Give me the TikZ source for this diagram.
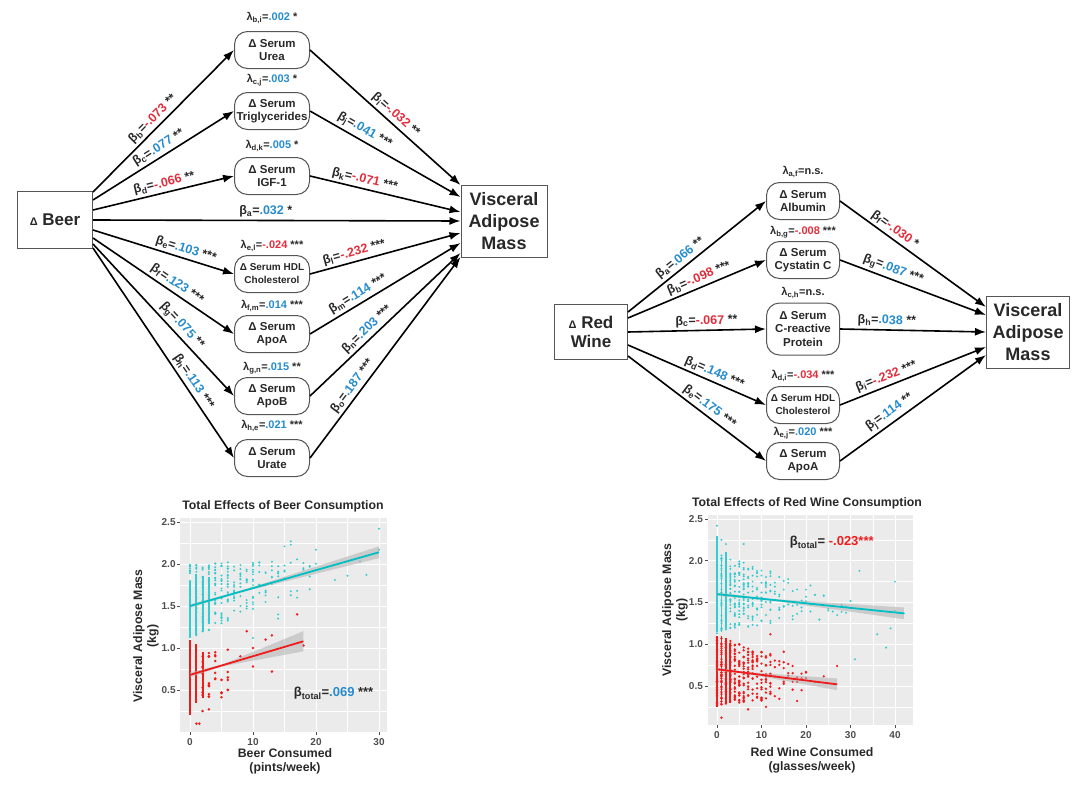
\documentclass[tikz,border=0pt]{standalone}
\usepackage{fontspec}
\setmainfont{Liberation Sans}
\usetikzlibrary{arrows.meta}

\definecolor{posblue}{RGB}{38,140,205}
\definecolor{negred}{RGB}{226,45,60}
\definecolor{txt}{RGB}{40,40,40}
\definecolor{boxgray}{RGB}{85,85,85}
\definecolor{panelbg}{RGB}{235,235,235}
\definecolor{cyanc}{RGB}{0,191,196}
\definecolor{redc}{RGB}{240,28,28}
\definecolor{ticktxt}{RGB}{77,77,77}

\newcommand{\posv}[1]{\textcolor{posblue}{#1}}
\newcommand{\negv}[1]{\textcolor{negred}{#1}}
\newcommand{\betlab}[3]{β\textsubscript{#1}=#2\ #3}
\newcommand{\lamlab}[3]{λ\textsubscript{#1}=#2\ #3}

\tikzset{
  box/.style={draw=boxgray, line width=1pt, fill=white, align=center, inner sep=1pt,
    font=\bfseries\fontsize{17}{19}\selectfont, text=txt},
  vamstyle/.style={box, minimum width=86pt, minimum height=72pt,
    font=\bfseries\fontsize{18}{22}\selectfont},
  serum/.style={draw=boxgray, line width=1pt, fill=white, rounded corners=13pt,
    minimum width=75pt, minimum height=37pt, align=center, inner sep=1pt,
    font=\bfseries\fontsize{11.5}{13.5}\selectfont, text=txt},
  small/.style={font=\bfseries\fontsize{10}{13}\selectfont},
  lam/.style={font=\bfseries\fontsize{11}{13}\selectfont, text=txt},
  lbl/.style={sloped, above=1.5pt, inner sep=1pt, font=\bfseries\fontsize{12.5}{14}\selectfont, text=txt},
  arr/.style={-{Latex[length=11pt,width=8pt]}, line width=1.6pt, draw=black},
  ttl/.style={font=\bfseries\fontsize{12.3}{14}\selectfont, text=txt},
  axt/.style={font=\bfseries\fontsize{12.3}{14}\selectfont, text=txt, align=center},
  tck/.style={font=\bfseries\fontsize{10}{12}\selectfont, text=ticktxt, inner sep=1pt},
  majorgrid/.style={draw=white, line width=0.9pt},
  minorgrid/.style={draw=white, line width=0.45pt},
  tickline/.style={draw=ticktxt, line width=0.6pt},
  band/.style={fill=gray!60, fill opacity=0.55},
  cyanpt/.style={fill=cyanc!80},
  redpt/.style={fill=redc},
}

\begin{document}
\begin{tikzpicture}[x=1pt,y=-1pt]
\useasboundingbox (0,0) rectangle (1080,790);

% beer model
\node[box, minimum width=75pt, minimum height=57pt] (beer) at (55,220) {{\fontsize{11}{13}\selectfont Δ} Beer};
\node[vamstyle] (vam) at (504,221) {Visceral\\Adipose\\Mass};

\node[serum] (urea) at (272,50) {Δ Serum\\Urea};
\node[serum] (trig) at (272,111) {Δ Serum\\Triglycerides};
\node[serum] (igf) at (272,176) {Δ Serum\\IGF-1};
\node[serum, small] (hdl) at (272,274) {Δ Serum HDL\\Cholesterol};
\node[serum] (apoa) at (272,334) {Δ Serum\\ApoA};
\node[serum] (apob) at (272,396) {Δ Serum\\ApoB};
\node[serum] (urate) at (272,458) {Δ Serum\\Urate};

\node[lam] (lurea) at (272,18) {\lamlab{b,i}{\posv{.002}}{*}};
\node[lam] (ltrig) at (272,80) {\lamlab{c,j}{\posv{.003}}{*}};
\node[lam] (ligf) at (272,146) {\lamlab{d,k}{\posv{.005}}{*}};
\node[lam] (lhdl) at (272,246) {\lamlab{e,l}{\negv{-.024}}{***}};
\node[lam] (lapoa) at (272,306) {\lamlab{f,m}{\posv{.014}}{***}};
\node[lam] (lapob) at (272,368) {\lamlab{g,n}{\posv{.015}}{**}};
\node[lam] (lurate) at (272,426) {\lamlab{h,e}{\posv{.021}}{***}};

\draw[arr] ([yshift=28pt]beer.east) -- node[lbl,pos=.47] (eb) {\betlab{b}{\negv{-.073}}{**}} (urea.west);
\draw[arr] ([yshift=20pt]beer.east) -- node[lbl,pos=.5] (ec) {\betlab{c}{\posv{.077}}{**}} (trig.west);
\draw[arr] ([yshift=10pt]beer.east) -- node[lbl,pos=.52] (ed) {\betlab{d}{\negv{-.066}}{**}} (igf.west);
\draw[arr] (beer.east) -- node[lbl,pos=.47] (ea) {\betlab{a}{\posv{.032}}{*}} (vam.west);
\draw[arr] ([yshift=-10pt]beer.east) -- node[lbl,pos=.64] (ee) {\betlab{e}{\posv{.103}}{***}} (hdl.west);
\draw[arr] ([yshift=-18pt]beer.east) -- node[lbl,pos=.56] (ef) {\betlab{f}{\posv{.123}}{***}} (apoa.west);
\draw[arr] ([yshift=-24pt]beer.east) -- node[lbl,pos=.58] (eg) {\betlab{g}{\posv{.075}}{**}} (apob.west);
\draw[arr] ([yshift=-28pt]beer.east) -- node[lbl,pos=.66] (eh) {\betlab{h}{\posv{.113}}{***}} (urate.west);

\draw[arr] (urea.east) -- node[lbl,pos=.53] (ei) {\betlab{i}{\negv{-.032}}{**}} ([yshift=36pt]vam.west);
\draw[arr] (trig.east) -- node[lbl,pos=.33] (ej) {\betlab{j}{\posv{.041}}{***}} ([yshift=24pt]vam.west);
\draw[arr] (igf.east) -- node[lbl,pos=.35] (ek) {\betlab{k}{\negv{-.071}}{***}} ([yshift=9pt]vam.west);
\draw[arr] (hdl.east) -- node[lbl,pos=.31] (el) {\betlab{l}{\negv{-.232}}{***}} ([yshift=-12pt]vam.west);
\draw[arr] (apoa.east) -- node[lbl,pos=.35] (em) {\betlab{m}{\posv{.114}}{***}} ([yshift=-22pt]vam.west);
\draw[arr] (apob.east) -- node[lbl,pos=.42] (en) {\betlab{n}{\posv{.203}}{***}} ([yshift=-32pt]vam.west);
\draw[arr] (urate.east) -- node[lbl,pos=.33] (eo) {\betlab{o}{\posv{.187}}{***}} ([yshift=-36pt]vam.west);

% red wine model
\node[box, minimum width=73pt, minimum height=55pt] (wine) at (591,332) {{\fontsize{11}{13}\selectfont Δ} Red\\Wine};
\node[vamstyle, minimum width=83pt] (vam2) at (1028,332) {Visceral\\Adipose\\Mass};

\node[serum, minimum width=73pt] (alb) at (803,201) {Δ Serum\\Albumin};
\node[serum, minimum width=73pt] (cys) at (803,260) {Δ Serum\\Cystatin C};
\node[serum, minimum width=73pt, minimum height=52pt] (crp) at (803,329) {Δ Serum\\C-reactive\\Protein};
\node[serum, small, minimum width=73pt] (hdl2) at (803,405) {Δ Serum HDL\\Cholesterol};
\node[serum, minimum width=73pt] (apoa2) at (803,461) {Δ Serum\\ApoA};

\node[lam] (lalb) at (803,172) {λ\textsubscript{a,f}=n.s.};
\node[lam] (lcys) at (803,232) {\lamlab{b,g}{\negv{-.008}}{***}};
\node[lam] (lcrp) at (803,293) {λ\textsubscript{c,h}=n.s.};
\node[lam] (lhdl2) at (803,376) {\lamlab{d,i}{\negv{-.034}}{***}};
\node[lam] (lapoa2) at (803,433) {\lamlab{e,j}{\posv{.020}}{***}};

\draw[arr] ([yshift=20pt]wine.east) -- node[lbl,pos=.42] (wa) {\betlab{a}{\posv{.066}}{**}} (alb.west);
\draw[arr] ([yshift=14pt]wine.east) -- node[lbl,pos=.54] (wb) {\betlab{b}{\negv{-.098}}{***}} (cys.west);
\draw[arr] (wine.east) -- node[lbl,pos=.57] (wc) {\betlab{c}{\negv{-.067}}{**}} (crp.west);
\draw[arr] ([yshift=-13pt]wine.east) -- node[lbl,pos=.6] (wd) {\betlab{d}{\posv{.148}}{***}} (hdl2.west);
\draw[arr] ([yshift=-24pt]wine.east) -- node[lbl,pos=.55] (we) {\betlab{e}{\posv{.175}}{***}} (apoa2.west);

\draw[arr] (alb.east) -- node[lbl,pos=.34] (wf) {\betlab{f}{\negv{-.030}}{*}} ([yshift=25pt]vam2.west);
\draw[arr] (cys.east) -- node[lbl,pos=.34] (wg) {\betlab{g}{\posv{.087}}{***}} ([yshift=17pt]vam2.west);
\draw[arr] (crp.east) -- node[lbl,pos=.32] (wh) {\betlab{h}{\posv{.038}}{**}} (vam2.west);
\draw[arr] (hdl2.east) -- node[lbl,pos=.34] (wi) {\betlab{i}{\negv{-.232}}{***}} ([yshift=-15pt]vam2.west);
\draw[arr] (apoa2.east) -- node[lbl,pos=.38] (wj) {\betlab{j}{\posv{.114}}{**}} ([yshift=-23pt]vam2.west);

% beer plot
\pgfmathsetseed{7}
\node[ttl] (ttlbeer) at (283,506) {Total Effects of Beer Consumption};
\node[axt, rotate=90] (ybeer) at (146,636) {Visceral Adipose Mass\\(kg)};
\node[axt] (xbeer) at (285,761) {Beer Consumed\\(pints/week)};
\begin{scope}[shift={(190,732)}, x=6.3pt, y=84pt]
  \fill[panelbg] (-1.59,0) rectangle (31.27,2.55);
  \foreach \g in {5,15,25} \draw[minorgrid] (\g,0) -- (\g,2.55);
  \foreach \g in {0.25,0.75,1.25,1.75,2.25} \draw[minorgrid] (-1.59,\g) -- (31.27,\g);
  \foreach \g [count=\i] in {0,10,20,30} {
    \draw[majorgrid] (\g,0) -- (\g,2.55);
    \draw[tickline] (\g,0) -- ++(0,-3pt);
    \node[tck, anchor=north] (bxt\i) at (\g,-0.06) {\g};
  }
  \foreach \g [count=\i] in {0.5,1.0,1.5,2.0,2.5} {
    \draw[majorgrid] (-1.59,\g) -- (31.27,\g);
    \draw[tickline] (-1.59,\g) -- ++(-3pt,0);
    \node[tck, anchor=east] (byt\i) at (-2.1,\g) {\g};
  }
  \foreach \xv/\n/\sp in {0/30/0.45,1/30/0.42,2/28/0.42,3/26/0.4,4/24/0.38,5/22/0.36,6/20/0.35,7/14/0.33,8/12/0.3,9/10/0.3,10/14/0.3,11/7/0.28,12/8/0.28,13/6/0.25,14/6/0.25,15/4/0.28,16/3/0.3,17/2/0.25,18/2/0.2,19/3/0.18,20/2/0.15}
    \foreach \k in {1,...,\n}
      \fill[cyanpt] (\xv,{1.55+0.02*\xv+\sp*rand}) circle (1.1pt);
  \foreach \xv/\yv in {16/2.27,16/2.23,15/2.21,20/2.17,23/1.81,25/1.86,27/2.03,28/1.87,30/2.42,30/2.17,18/1.95,19/1.7,17/1.6,14/1.35,14/1.4,10/1.12}
    \fill[cyanpt] (\xv,\yv) circle (1.1pt);
  \foreach \xv/\lo/\hi in {0/1.12/1.8,1/1.15/1.88,2/1.2/1.86,3/1.28/1.85}
    \draw[cyanc!80, line width=1.8pt] (\xv,\lo) -- (\xv,\hi);
  \draw[redc, line width=2.4pt] (0,0.2) -- (0,1.1);
  \draw[redc, line width=2.2pt] (1,0.35) -- (1,1.05);
  \draw[redc, line width=1.8pt] (2,0.4) -- (2,0.95);
  \foreach \xv/\n in {2/8,3/8,4/5,5/3,6/3}
    \foreach \k in {1,...,\n}
      \fill[redpt] (\xv,{0.65+0.3*rand}) circle (1.4pt);
  \foreach \xv/\yv in {1/0.1,1.5/0.1,2/0.25,3/0.27,3/0.45,4/0.63,5/0.47,6/0.62,6/0.65,6/0.98,8/0.9,9/1.2,10/0.78,10/1.0,12/1.1,13/1.15,13/0.72,17/1.4,18/1.03,3/0.58,3/0.9,4/0.95,2/0.9}
    \fill[redpt] (\xv,\yv) circle (1.4pt);
  \fill[band] (0,1.52) -- (8,1.68) -- (30,2.21) -- (30,2.07) -- (8,1.66) -- (0,1.48) -- cycle;
  \draw[cyanc, line width=1.8pt] (0,1.5) -- (30,2.14);
  \fill[band] (0,0.71) -- (5,0.80) -- (18,1.20) -- (18,0.96) -- (5,0.78) -- (0,0.65) -- cycle;
  \draw[redc, line width=1.8pt] (0,0.68) -- (18,1.08);
  \node[axt, font=\bfseries\fontsize{13}{15}\selectfont] (btotbeer) at (22.8,0.46) {\betlab{total}{\posv{.069}}{***}};
\end{scope}

% red wine plot
\node[ttl] (ttlwine) at (807,503) {Total Effects of Red Wine Consumption};
\node[axt, rotate=90] (ywine) at (675,610) {Visceral Adipose Mass\\(kg)};
\node[axt] (xwine) at (812,760) {Red Wine Consumed\\(glasses/week)};
\begin{scope}[shift={(717,727.75)}, x=4.45pt, y=83.5pt]
  \fill[panelbg] (-2.02,0.033) rectangle (44.04,2.548);
  \foreach \g in {5,15,25,35} \draw[minorgrid] (\g,0.033) -- (\g,2.548);
  \foreach \g in {0.25,0.75,1.25,1.75,2.25} \draw[minorgrid] (-2.02,\g) -- (44.04,\g);
  \foreach \g [count=\i] in {0,10,20,30,40} {
    \draw[majorgrid] (\g,0.033) -- (\g,2.548);
    \draw[tickline] (\g,0.033) -- ++(0,-3pt);
    \node[tck, anchor=north] (wxt\i) at (\g,-0.03) {\g};
  }
  \foreach \g [count=\i] in {0.5,1.0,1.5,2.0,2.5} {
    \draw[majorgrid] (-2.02,\g) -- (44.04,\g);
    \draw[tickline] (-2.02,\g) -- ++(-3pt,0);
    \node[tck, anchor=east] (wyt\i) at (-2.9,\g) {\g};
  }
  \foreach \xv/\n/\sp in {0/40/0.5,1/34/0.45,2/32/0.45,3/28/0.42,4/26/0.4,5/24/0.4,6/22/0.4,7/18/0.38,8/16/0.36,9/14/0.35,10/14/0.35,11/10/0.33,12/12/0.33,13/5/0.3,14/7/0.3,15/5/0.3,16/4/0.3,17/4/0.3,18/3/0.3,19/3/0.25,20/3/0.25,21/3/0.25,22/2/0.2,23/2/0.2,24/2/0.15,25/2/0.15,26/1/0.1,28/2/0.1,29/1/0.1,30/1/0.1}
    \foreach \k in {1,...,\n}
      \fill[cyanpt] (\xv,{1.62-0.0055*\xv+\sp*rand}) circle (1.1pt);
  \foreach \xv/\yv in {31/0.82,32/1.88,36/1.12,38/0.96,39/1.19,40/1.75,40/1.4,42/1.37,27/1.35,29/1.45,0/2.42,1/2.25,2/2.2,6/2.2}
    \fill[cyanpt] (\xv,\yv) circle (1.1pt);
  \foreach \xv/\lo/\hi in {0/1.15/2.3,1/1.15/2.05,2/1.2/2.1}
    \draw[cyanc!80, line width=1.8pt] (\xv,\lo) -- (\xv,\hi);
  \foreach \xv/\n/\sp in {0/40/0.42,1/36/0.4,2/34/0.4,3/30/0.38,4/28/0.36,5/25/0.35,6/24/0.35,7/20/0.33,8/18/0.33,9/14/0.3,10/14/0.3,11/12/0.3,12/12/0.28,13/4/0.25,14/4/0.25,15/4/0.25,16/3/0.2,17/3/0.2,18/2/0.2,19/2/0.2,20/2/0.15,22/1/0.1,24/1/0.1}
    \foreach \k in {1,...,\n}
      \fill[redpt] (\xv,{0.68-0.006*\xv+\sp*rand}) circle (1.3pt);
  \foreach \xv/\yv in {27/0.74,1/0.12,7/0.22,11/0.25,15/0.91,17/0.74,18/0.32,12/1.12,20/0.66,19/0.45}
    \fill[redpt] (\xv,\yv) circle (1.3pt);
  \foreach \xv/\lo/\hi in {0/0.25/1.1,1/0.3/1.1,2/0.28/1.08,3/0.3/1.0}
    \draw[redc, line width=1.8pt] (\xv,\lo) -- (\xv,\hi);
  \fill[band] (0,1.62) -- (12,1.544) -- (42,1.44) -- (42,1.30) -- (12,1.524) -- (0,1.58) -- cycle;
  \draw[cyanc, line width=1.8pt] (0,1.6) -- (42,1.37);
  \fill[band] (0,0.72) -- (6,0.67) -- (27,0.59) -- (27,0.45) -- (6,0.65) -- (0,0.68) -- cycle;
  \draw[redc, line width=1.8pt] (0,0.7) -- (27,0.52);
  \node[axt, font=\bfseries\fontsize{13}{15}\selectfont] (btotwine) at (25.8,2.22) {β\textsubscript{total}= \textcolor{redc}{-.023***}};
\end{scope}
\end{tikzpicture}
\end{document}
